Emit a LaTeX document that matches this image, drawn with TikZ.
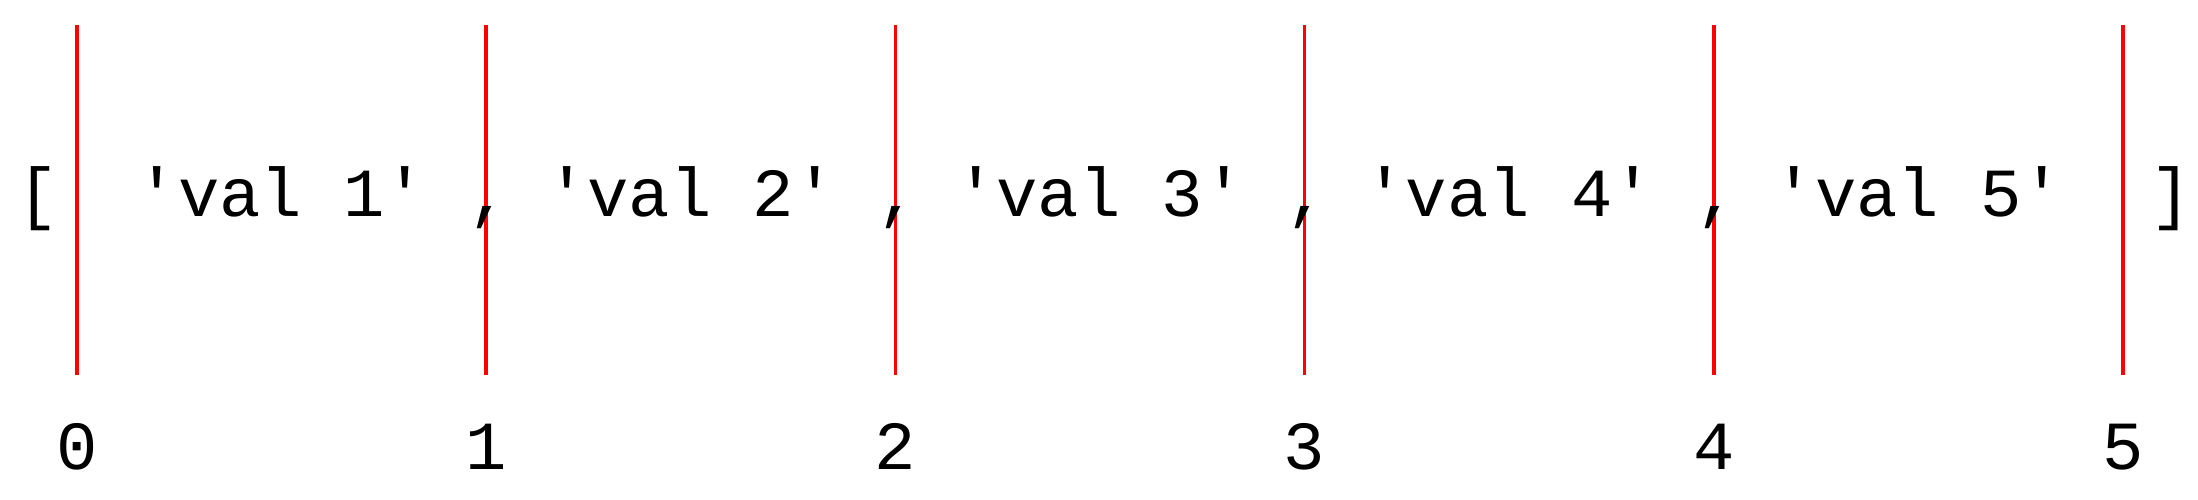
\documentclass[tikz,border=0pt]{standalone}
\usepackage{fontspec}
\setmonofont{Liberation Mono}
\begin{document}
\begin{tikzpicture}[
    every node/.style={font=\ttfamily\fontsize{19.6}{23}\selectfont, anchor=base, inner sep=0pt},
    cut/.style={red, line width=1pt}]
\useasboundingbox (0,0) rectangle (21.98,5);
\foreach \i in {0,...,5} {
    \coordinate (top\i) at ({0.77+4.092*\i}, 4.75);
    \coordinate (bot\i) at ({0.77+4.092*\i}, 1.25);
    \draw[cut] (top\i) -- (bot\i);
    \node (idx\i) at ({0.77+4.092*\i}, 0.30) {\i};
}
\node (open) at (0.38, 2.83) {[};
\node (close) at (21.71, 2.83) {]};
\foreach \i in {1,...,5}
    \node (val\i) at ({0.77+4.092*(\i-0.5)}, 2.83) {'val \i'};
\foreach \i in {1,...,4}
    \node (comma\i) at ({0.80+4.092*\i}, 2.83) {,};
\end{tikzpicture}
\end{document}
